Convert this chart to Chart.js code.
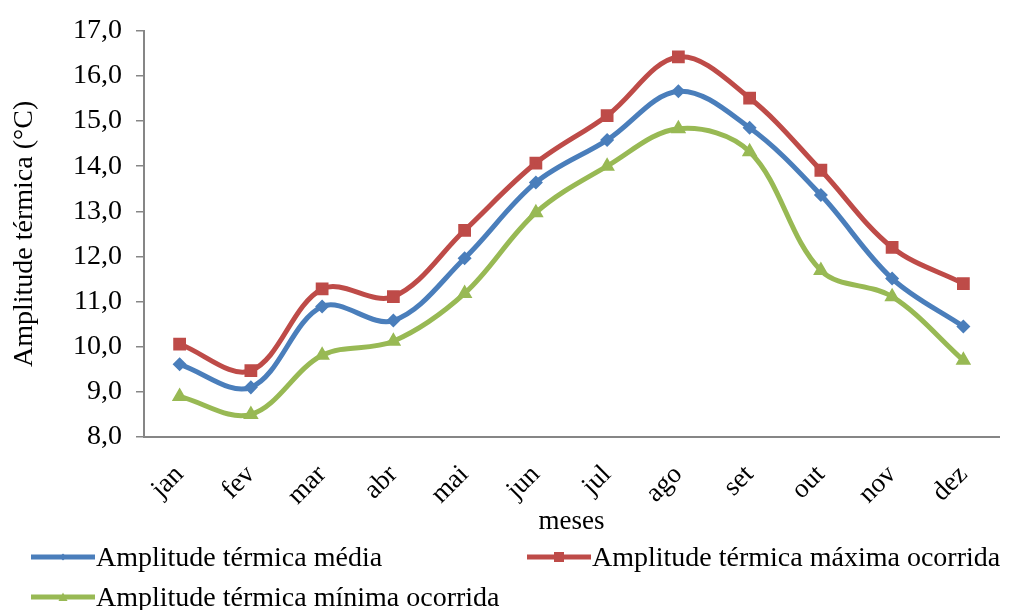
<!DOCTYPE html>
<html>
<head>
<meta charset="utf-8">
<script src="https://cdn.jsdelivr.net/npm/chart.js@4/dist/chart.umd.min.js"></script>
<style>
  html, body { margin: 0; padding: 0; background: #fff; }
  #wrap { position: relative; width: 1014px; height: 610px; }
  #c { position: absolute; left: 0; top: 0; }
  .leg { position: absolute; font-family: "Liberation Serif", "Times New Roman", serif; font-size: 28px; color: #000; white-space: nowrap; display: flex; align-items: center; height: 32px; }
  .leg svg { margin-right: 1px; }
</style>
</head>
<body>
<div id="wrap">
  <canvas id="c" width="1014" height="610"></canvas>
  <div id="legend"></div>
</div>
<script>
const categories = ["jan", "fev", "mar", "abr", "mai", "jun", "jul", "ago", "set", "out", "nov", "dez"];
const mediaValues = [9.61, 9.10, 10.89, 10.58, 11.96, 13.64, 14.58, 15.66, 14.85, 13.36, 11.51, 10.45];
const maximaValues = [10.06, 9.47, 11.28, 11.11, 12.58, 14.07, 15.12, 16.42, 15.51, 13.91, 12.20, 11.40];
const minimaValues = [8.90, 8.50, 9.81, 10.12, 11.18, 12.97, 14.00, 14.83, 14.32, 11.69, 11.11, 9.70];
const seriesNames = ["Amplitude térmica média", "Amplitude térmica máxima ocorrida", "Amplitude térmica mínima ocorrida"];
const yTicks = [8, 9, 10, 11, 12, 13, 14, 15, 16, 17];
const xTitle = "meses";
const yTitle = "Amplitude térmica (°C)";

const BLUE = "#4a7ebb", RED = "#be4b48", GREEN = "#98b954";
const FONT = "'Liberation Serif', 'Times New Roman', serif";

function fmt(v) { return v.toFixed(1).replace(".", ","); }

const ctx = document.getElementById("c").getContext("2d");
new Chart(ctx, {
  type: "line",
  data: {
    labels: categories,
    datasets: [
      { label: seriesNames[0], data: mediaValues, borderColor: BLUE, backgroundColor: BLUE, borderWidth: 5, pointStyle: "rectRot", pointRadius: 3.5, tension: 0.35 },
      { label: seriesNames[1], data: maximaValues, borderColor: RED, backgroundColor: RED, borderWidth: 5, pointStyle: "rect", pointRadius: 5.5, tension: 0.35 },
      { label: seriesNames[2], data: minimaValues, borderColor: GREEN, backgroundColor: GREEN, borderWidth: 5, pointStyle: "triangle", pointRadius: 4, tension: 0.35 }
    ]
  },
  options: {
    responsive: false,
    animation: false,
    layout: { padding: { top: 26, right: 15, bottom: 70, left: 0 } },
    plugins: { legend: { display: false }, tooltip: { enabled: false } },
    scales: {
      x: {
        offset: true,
        grid: { display: false, drawOnChartArea: false, drawTicks: false },
        border: { display: true, color: "#868686", width: 2 },
        ticks: { color: "#000", font: { family: FONT, size: 27 }, maxRotation: 45, minRotation: 45, padding: 22, autoSkip: false },
        title: { display: true, text: xTitle, color: "#000", font: { family: FONT, size: 27 }, padding: { top: 0, bottom: 2 } },
        afterFit(s) { s.height = 103; }
      },
      y: {
        min: 8, max: 17,
        afterBuildTicks(s) { s.ticks = yTicks.map(v => ({ value: v })); },
        grid: { display: true, drawOnChartArea: false, drawTicks: true, tickLength: 8, color: "#868686", lineWidth: 1.5 },
        border: { display: true, color: "#868686", width: 2 },
        ticks: { color: "#000", font: { family: FONT, size: 28 }, padding: 14, callback: (v) => fmt(v) },
        title: { display: true, text: yTitle, color: "#000", font: { family: FONT, size: 28 }, padding: { top: 8, bottom: 0 } },
        afterFit(s) { s.width = 144; }
      }
    }
  }
});

// HTML legend
function legendItem(x, y, color, style, text) {
  const d = document.createElement("div");
  d.className = "leg";
  d.style.left = x + "px";
  d.style.top = y + "px";
  let marker = "";
  if (style === "rect") marker = `<rect x="27" y="6" width="10" height="10" fill="${color}"/>`;
  else if (style === "rectRot") marker = `<polygon points="32,7.5 35.5,11 32,14.5 28.5,11" fill="${color}"/>`;
  else marker = `<polygon points="32,6.5 36.5,15 27.5,15" fill="${color}"/>`;
  d.innerHTML = `<svg width="64" height="22"><line x1="0" y1="11" x2="64" y2="11" stroke="${color}" stroke-width="5"/>${marker}</svg><span>${text}</span>`;
  document.getElementById("legend").appendChild(d);
}
legendItem(31, 541, BLUE, "rectRot", seriesNames[0]);
legendItem(527, 541, RED, "rect", seriesNames[1]);
legendItem(31, 581, GREEN, "triangle", seriesNames[2]);
</script>
</body>
</html>
